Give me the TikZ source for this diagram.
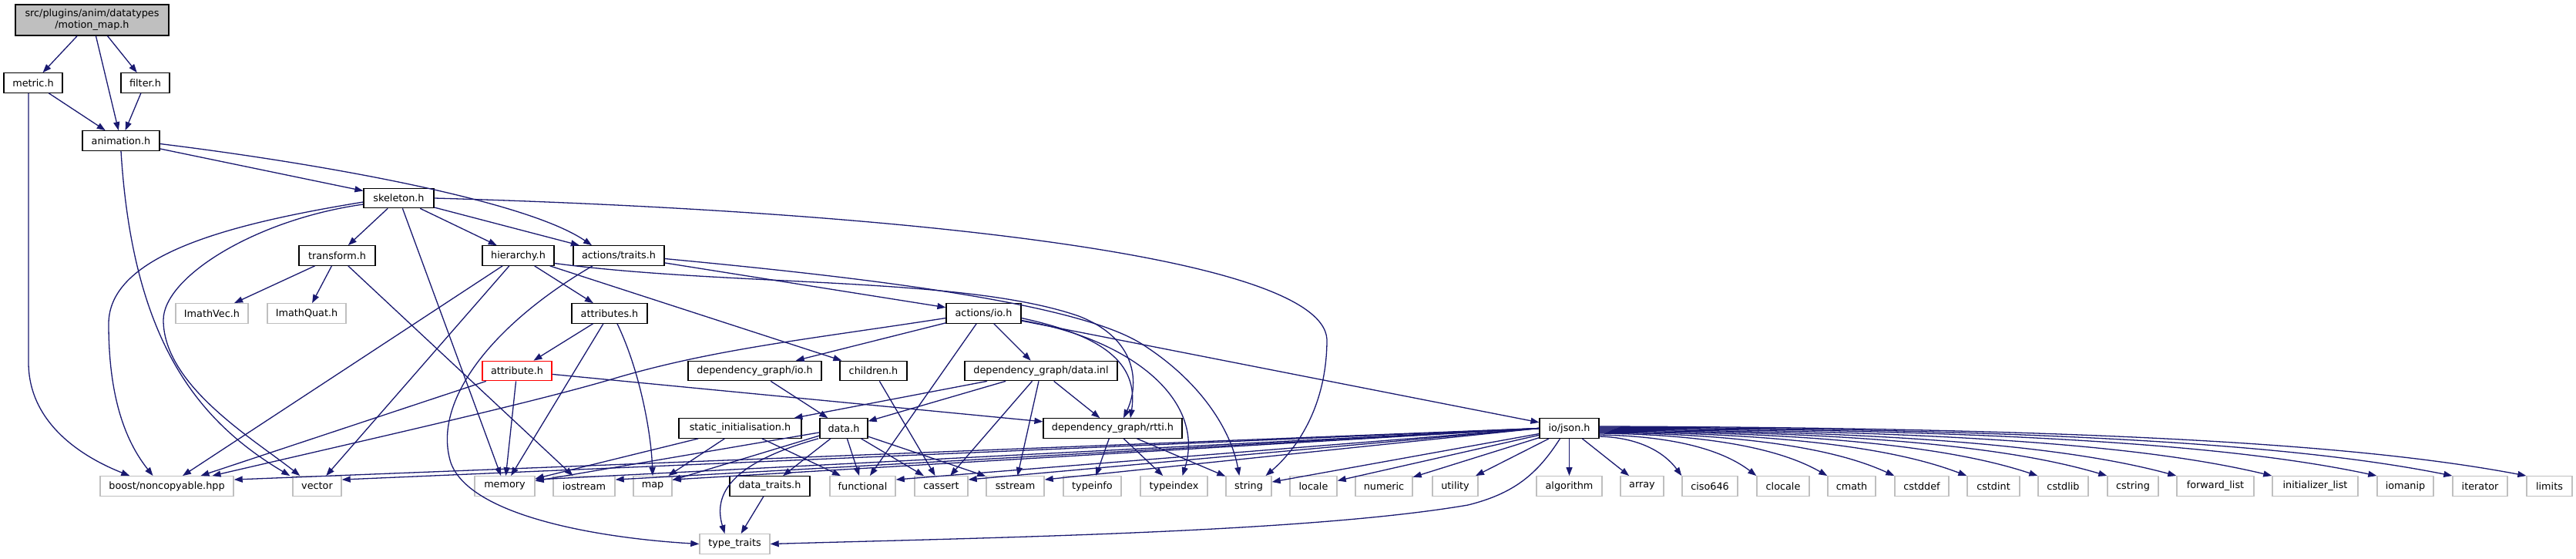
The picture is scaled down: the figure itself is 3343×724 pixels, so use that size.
\documentclass[tikz,border=0pt]{standalone}
\usepackage{fontspec}
\setmainfont{DejaVu Sans}
\usetikzlibrary{arrows.meta,calc}
\definecolor{edgec}{HTML}{191970}
\definecolor{grayb}{HTML}{BFBFBF}
\definecolor{motionfill}{HTML}{BFBFBF}
\begin{document}
\begin{tikzpicture}[x=1pt,y=-1pt,
  nd/.style={draw=black, line width=1.2pt, fill=white, font=\fontsize{12.8}{15}\selectfont, minimum height=25.5pt, inner sep=0pt},
  ext/.style={nd, draw=grayb, line width=1.4pt},
  e/.style={draw=edgec, line width=1.3pt, -{Triangle[length=11pt,width=8pt]}, fill=none}
]
\useasboundingbox (0,0) rectangle (3343,724);

% nodes
\node[nd, fill=motionfill, minimum width=199pt, minimum height=40pt, align=center] (motion) at (119.5,26) {src/plugins/anim/datatypes\\/motion\_map.h};
\node[nd, minimum width=76pt] (metric) at (43,107.5) {metric.h};
\node[nd, minimum width=63pt] (filter) at (188.5,107.5) {filter.h};
\node[nd, minimum width=100pt] (anim) at (157,182.5) {animation.h};
\node[nd, minimum width=91pt] (skel) at (517.5,257) {skeleton.h};
\node[nd, minimum width=99pt] (transform) at (437.5,331.5) {transform.h};
\node[nd, minimum width=93pt] (hier) at (672.5,331.5) {hierarchy.h};
\node[nd, minimum width=118pt] (traits) at (803,331.5) {actions/traits.h};
\node[ext, minimum width=94pt] (imvec) at (275,406.5) {ImathVec.h};
\node[ext, minimum width=102pt] (imquat) at (398,406.5) {ImathQuat.h};
\node[nd, minimum width=98pt] (attrs) at (791,406.5) {attributes.h};
\node[nd, minimum width=97pt] (aio) at (1276.5,406.5) {actions/io.h};
\node[nd, draw=red, minimum width=90pt] (attr) at (671,481) {attribute.h};
\node[nd, minimum width=173pt] (dgio) at (979.5,481) {dependency\_graph/io.h};
\node[nd, minimum width=87pt] (children) at (1133.5,481) {children.h};
\node[nd, minimum width=198pt] (dinl) at (1351,481) {dependency\_graph/data.inl};
\node[nd, minimum width=159pt] (static) at (960.5,555.5) {static\_initialisation.h};
\node[nd, minimum width=62pt] (data) at (1095,555.5) {data.h};
\node[nd, minimum width=180pt] (rtti) at (1444,555.5) {dependency\_graph/rtti.h};
\node[nd, minimum width=77pt] (json) at (2036.5,555.5) {io/json.h};
% bottom row
\node[ext, minimum width=173pt] (boost) at (216.5,630.5) {boost/noncopyable.hpp};
\node[ext, minimum width=63pt] (vector) at (411.5,630.5) {vector};
\node[ext, minimum width=78pt] (memory) at (655,630.5) {memory};
\node[ext, minimum width=80pt] (iostream) at (758,630.5) {iostream};
\node[ext, minimum width=50pt] (map) at (847,630.5) {map};
\node[nd, minimum width=104pt] (dtraits) at (999,630.5) {data\_traits.h};
\node[ext, minimum width=85pt] (functional) at (1119.5,630.5) {functional};
\node[ext, minimum width=69pt] (cassert) at (1221.5,630.5) {cassert};
\node[ext, minimum width=75pt] (sstream) at (1317.5,630.5) {sstream};
\node[ext, minimum width=75pt] (typeinfo) at (1417.5,630.5) {typeinfo};
\node[ext, minimum width=87pt] (typeindex) at (1523.5,630.5) {typeindex};
\node[ext, minimum width=59pt] (string) at (1620.5,630.5) {string};
\node[ext, minimum width=61pt] (locale) at (1704.5,630.5) {locale};
\node[ext, minimum width=74pt] (numeric) at (1796,630.5) {numeric};
\node[ext, minimum width=59pt] (utility) at (1888.5,630.5) {utility};
\node[ext, minimum width=85pt] (algorithm) at (2036.5,630.5) {algorithm};
\node[ext, minimum width=56pt] (array) at (2131,630.5) {array};
\node[ext, minimum width=72pt] (ciso) at (2219,630.5) {ciso646};
\node[ext, minimum width=68pt] (clocale) at (2314,630.5) {clocale};
\node[ext, minimum width=62pt] (cmath) at (2403,630.5) {cmath};
\node[ext, minimum width=70pt] (cstddef) at (2494,630.5) {cstddef};
\node[ext, minimum width=68pt] (cstdint) at (2587,630.5) {cstdint};
\node[ext, minimum width=65pt] (cstdlib) at (2677.5,630.5) {cstdlib};
\node[ext, minimum width=66pt] (cstring) at (2768,630.5) {cstring};
\node[ext, minimum width=100pt] (fwdlist) at (2875,630.5) {forward\_list};
\node[ext, minimum width=111pt] (initlist) at (3004.5,630.5) {initializer\_list};
\node[ext, minimum width=73pt] (iomanip) at (3121.5,630.5) {iomanip};
\node[ext, minimum width=71pt] (iterator) at (3218.5,630.5) {iterator};
\node[ext, minimum width=59pt] (limits) at (3308.5,630.5) {limits};
\node[ext, minimum width=91pt] (tt) at (953.5,705.5) {type\_traits};

% motion_map
\draw[e] (motion) -- (metric);
\draw[e] (motion) -- (anim);
\draw[e] ($(motion.south)+(20,0)$) -- (filter);
% metric
\draw[e] (metric) -- (anim);
\draw[e] ($(metric.south)+(-6,0)$) -- (37,470) .. controls (37,545) and (100,590) .. ($(boost.north west)+(39,0)$);
% filter
\draw[e] (filter) -- (anim);
% animation
\draw[e] (anim) -- (skel);
\draw[e] ($(anim.east)+(0,4)$) .. controls (400,210) and (680,258) .. ($(traits.north)+(-35,0)$);
\draw[e] (anim.south) .. controls (172,440) and (255,545) .. ($(vector.north west)+(-3,0)$);
% skeleton
\draw[e] (skel) -- (transform);
\draw[e] (skel) -- (hier);
\draw[e] (skel) -- (traits);
\draw[e] (skel) -- (memory);
\draw[e] (skel.east) .. controls (1100,272) and (1715,325) .. (1722,440) .. controls (1722,530) and (1680,585) .. ($(string.north)+(22,0)$);
\draw[e] ($(skel.west)+(0,5)$) .. controls (300,290) and (141,330) .. (141,420) .. controls (141,520) and (165,575) .. ($(boost.north)+(-18,0)$);
\draw[e] ($(skel.west)+(0,8)$) .. controls (330,285) and (212,360) .. (212,415) .. controls (212,500) and (330,570) .. ($(vector.north west)+(10,0)$);
% transform
\draw[e] (transform) -- (imvec);
\draw[e] (transform) -- (imquat);
\draw[e] (transform) -- (iostream);
% hierarchy
\draw[e] (hier) -- (boost);
\draw[e] (hier) -- (vector);
\draw[e] (hier) -- (attrs);
\draw[e] (hier) -- (children);
\draw[e] ($(hier.east)+(0,10)$) .. controls (950,372) and (1250,358) .. (1400,410) .. controls (1478,440) and (1478,500) .. ($(rtti.north)+(14,0)$);
% actions/traits
\draw[e] (traits) -- (aio);
\draw[e] ($(traits.east)+(0,4)$) .. controls (1100,358) and (1390,390) .. (1480,445) .. controls (1560,495) and (1598,560) .. ($(string.north west)+(18,0)$);
\draw[e] ($(traits.south)+(-34,0)$) .. controls (640,420) and (560,520) .. (585,600) .. controls (610,670) and (780,698) .. (tt.west);
% attributes
\draw[e] (attrs) -- (attr);
\draw[e] (attrs) -- (memory);
\draw[e] ($(attrs.south)+(10,0)$) .. controls (830,480) and (845,560) .. (map.north);
% attribute
\draw[e] (attr) -- ($(boost.north)+(44,0)$);
\draw[e] (attr) -- (memory);
\draw[e] (attr) -- (rtti);
% actions/io
\draw[e] ($(aio.west)+(0,6)$) .. controls (1050,440) and (930,452) .. (800,490) .. controls (700,520) and (500,565) .. ($(boost.north)+(59,0)$);
\draw[e] (aio) -- (dgio);
\draw[e] (aio) -- (functional);
\draw[e] (aio) -- (dinl);
\draw[e] ($(aio.east)+(0,6)$) .. controls (1430,435) and (1478,470) .. ($(rtti.north)+(23,0)$);
\draw[e] ($(aio.east)+(0,9)$) .. controls (1470,440) and (1565,520) .. ($(typeindex.north)+(11,0)$);
\draw[e] (aio) -- (json);
% dependency_graph/io
\draw[e] (dgio) -- (data);
% children
\draw[e] (children) -- (cassert);
% data.inl
\draw[e] (dinl) -- (static);
\draw[e] (dinl) -- (data);
\draw[e] (dinl) -- (cassert);
\draw[e] (dinl) -- (sstream);
\draw[e] (dinl) -- (rtti);
% static_initialisation
\draw[e] (static) -- (memory);
\draw[e] (static) -- (map);
\draw[e] (static) -- (functional);
% data
\draw[e] (data) -- (functional);
\draw[e] (data) -- (cassert);
\draw[e] (data) -- (sstream);
\draw[e] (data) -- (dtraits);
\draw[e] (data) -- (memory);
\draw[e] (data) -- (map);
\draw[e] ($(data.south)+(-33,0)$) .. controls (950,600) and (925,640) .. ($(tt.north)+(-13,0)$);
% data_traits
\draw[e] (dtraits) -- (tt);
% rtti
\draw[e] (rtti) -- (typeinfo);
\draw[e] (rtti) -- (typeindex);
\draw[e] (rtti) -- (string);
% json left
\foreach \t in {boost,vector,memory,iostream,map,functional,cassert,sstream}
  \draw[e] (json.west) -- ($(\t.north east)+(0,5)$);
\draw[e] (json) -- (string);
\draw[e] (json) -- (locale);
\draw[e] (json) -- (numeric);
\draw[e] (json) -- (utility);
\draw[e] (json) -- (algorithm);
\draw[e] (json) -- (array);
\draw[e] ($(json.south)+(-12,0)$) .. controls (1995,615) and (1965,640) .. (1905,655) .. controls (1700,690) and (1300,697) .. (tt.east);
% json right fan
\foreach \t/\tx/\sy in {ciso/2183/566, clocale/2280/564, cmath/2372/562, cstddef/2459/561, cstdint/2553/560, cstdlib/2645/559, cstring/2735/558, fwdlist/2825/557, initlist/2949/556, iomanip/3085/555, iterator/3183/554, limits/3279/553}
  \draw[e] ($(json.east)+(0,{\sy-555.5})$) .. controls ({2075+0.6*(\tx-2075)},{\sy+2}) and ({\tx-0.15*(\tx-2075)},{\sy+30}) .. (\t.north west);
\end{tikzpicture}
\end{document}
